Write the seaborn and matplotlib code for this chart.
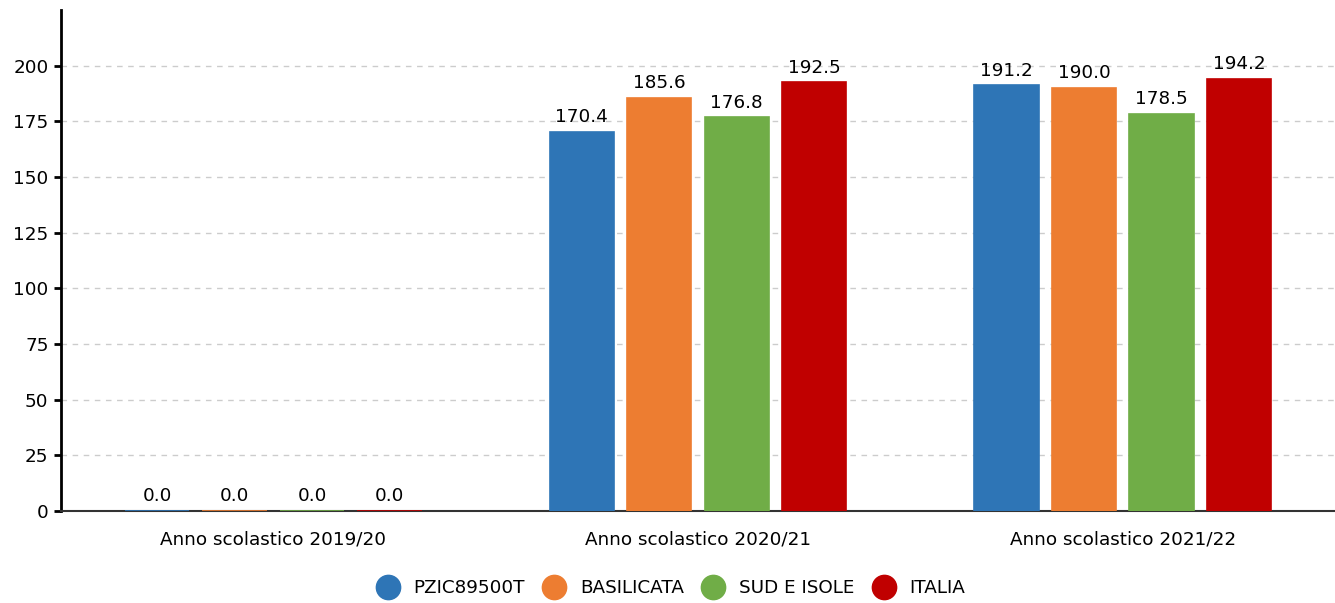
import pandas as pd
import seaborn as sns
import matplotlib.pyplot as plt
from matplotlib.lines import Line2D

# Data
years = ["Anno scolastico 2019/20", "Anno scolastico 2020/21", "Anno scolastico 2021/22"]
groups = ["PZIC89500T", "BASILICATA", "SUD E ISOLE", "ITALIA"]
pzic = [0.0, 170.4, 191.2]
basilicata = [0.0, 185.6, 190.0]
sud_isole = [0.0, 176.8, 178.5]
italia = [0.0, 192.5, 194.2]
colors = ["#2E75B6", "#ED7D31", "#70AD47", "#C00000"]

rows = []
for g, vals in zip(groups, [pzic, basilicata, sud_isole, italia]):
    for y, v in zip(years, vals):
        rows.append({"anno": y, "gruppo": g, "valore": v})
df = pd.DataFrame(rows)

sns.set_theme(style="white")
plt.rcParams["font.family"] = ["DejaVu Sans"]
plt.rcParams["text.color"] = "black"
plt.rcParams["xtick.color"] = "black"
plt.rcParams["ytick.color"] = "black"

fs = 13.2

fig = plt.figure(figsize=(13.35, 6.03), dpi=100)
ax = fig.add_axes([0.0457, 0.1526, 0.9543, 0.8308])

sns.barplot(data=df, x="anno", y="valore", hue="gruppo", order=years, hue_order=groups,
            palette=colors, width=0.73, gap=0.17, saturation=1, errorbar=None,
            linewidth=1.2, ax=ax, legend=False)
for bar in ax.patches:
    bar.set_edgecolor(bar.get_facecolor())
    bar.set_zorder(3)

for c in ax.containers:
    ax.bar_label(c, fmt="%.1f", padding=4, fontsize=fs, color="black")

ax.set_ylim(0, 225)
ax.set_xlim(-0.5, 2.5)
ax.set_yticks(range(0, 201, 25))
ax.yaxis.grid(True, ls=(0, (4, 4)), color="#cccccc", lw=1)
ax.set_axisbelow(True)
ax.set(xlabel=None, ylabel=None)
ax.tick_params(axis="y", left=True, length=5, width=2, color="black", labelsize=fs, pad=4)
ax.tick_params(axis="x", bottom=False, labelsize=fs, pad=8)
for s in ["top", "right"]:
    ax.spines[s].set_visible(False)
ax.spines["left"].set_color("black")
ax.spines["left"].set_linewidth(2)
ax.spines["bottom"].set_color("#333333")
ax.spines["bottom"].set_linewidth(1.5)

handles = [Line2D([0], [0], marker="o", ls="", markersize=17.5, markerfacecolor=c,
                  markeredgecolor=c) for c in colors]
fig.legend(handles, groups, loc="center", bbox_to_anchor=(0.5, 0.025), ncol=4, frameon=False,
           fontsize=fs, handletextpad=0.4, columnspacing=0.6)

plt.savefig("out.png", dpi=100)
